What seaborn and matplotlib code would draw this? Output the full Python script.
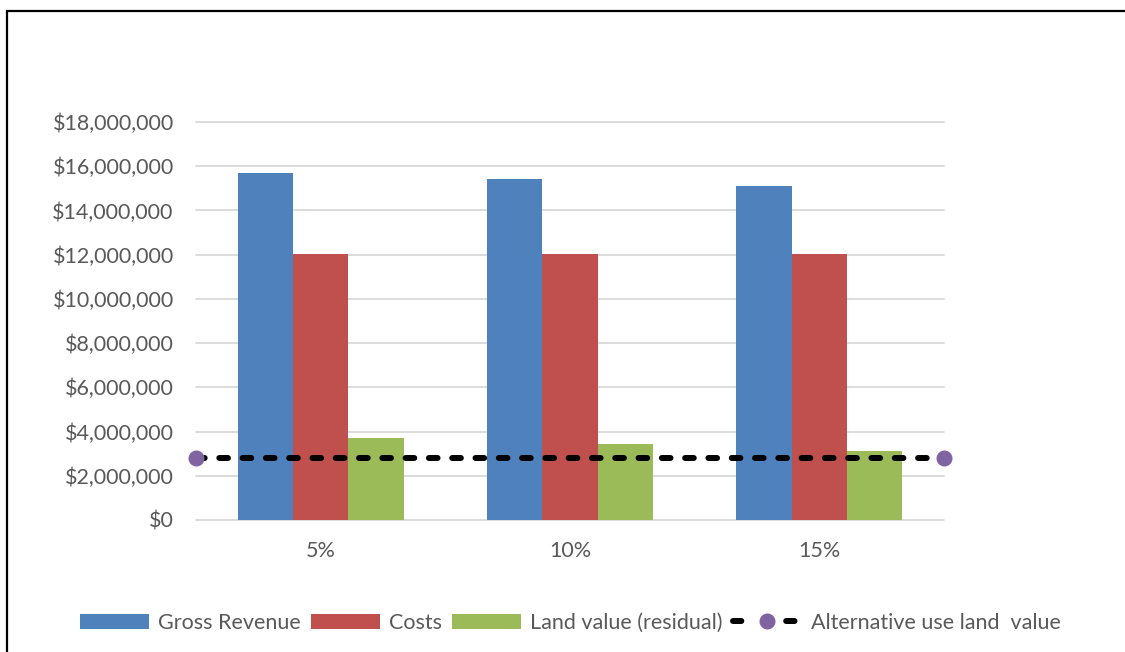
import matplotlib
matplotlib.use("Agg")
import matplotlib.pyplot as plt
import matplotlib.patches as mpatches
from matplotlib.lines import Line2D
from matplotlib.ticker import FuncFormatter, MultipleLocator
import seaborn as sns
import pandas as pd

# ---- data ----
categories = ["5%", "10%", "15%"]
gross_revenue = [15_700_000, 15_430_000, 15_120_000]
costs = [12_030_000, 12_030_000, 12_030_000]
land_value = [3_700_000, 3_430_000, 3_110_000]
alt_use_value = [2_810_000, 2_810_000]
series_names = ["Gross Revenue", "Costs", "Land value (residual)"]
line_name = "Alternative use land  value"

colors = ["#4F81BD", "#C0504D", "#9BBB59"]
purple = "#8064A2"
text_col = "#595959"

sns.set_style("white")
plt.rcParams["font.family"] = ["Lato", "DejaVu Sans"]

rows = []
for name, vals in zip(series_names, [gross_revenue, costs, land_value]):
    for c, v in zip(categories, vals):
        rows.append({"rate": c, "value": v, "series": name})
df = pd.DataFrame(rows)

fig = plt.figure(figsize=(11.25, 6.52), dpi=100)
ax = fig.add_axes([196 / 1125, 1 - 520 / 652, (944 - 196) / 1125, (520 - 122) / 652])

sns.barplot(data=df, x="rate", y="value", hue="series", order=categories,
            hue_order=series_names, palette=colors, width=0.667, gap=0,
            saturation=1, ax=ax, legend=False, errorbar=None, zorder=2,
            linewidth=0, edgecolor="none")

ax.set_xlim(-0.5, 2.5)
ax.set_ylim(0, 18_000_000)
ax.yaxis.set_major_locator(MultipleLocator(2_000_000))
ax.yaxis.set_major_formatter(FuncFormatter(lambda v, p: f"${v:,.0f}"))
ax.grid(axis="y", color="#D9D9D9", linewidth=1.3, zorder=0)
ax.set_axisbelow(True)
for gl in ax.get_ygridlines():
    gl.set_clip_on(False)
for s in ax.spines.values():
    s.set_visible(False)
ax.tick_params(axis="both", length=0, labelsize=15.5, labelcolor=text_col)
ax.tick_params(axis="y", pad=16)
ax.tick_params(axis="x", pad=15)
ax.set_xlabel("")
ax.set_ylabel("")

# alternative use land value line (edge to edge)
xline = [-0.5, 2.5]
ax.plot(xline, alt_use_value, color="black", linewidth=4.3,
        linestyle=(0, (1.45, 2.45)), dash_capstyle="round", zorder=4, clip_on=False)
ax.plot(xline, alt_use_value, linestyle="none", marker="o", markersize=10.5,
        color=purple, zorder=5, clip_on=False)

# legend
handles = [mpatches.Patch(facecolor=c, edgecolor="none") for c in colors]
handles.append(Line2D([0], [0], color="black", linewidth=4.3, linestyle=(0, (1.4, 7.5)),
                      dash_capstyle="round", marker="o", markersize=10.5,
                      markerfacecolor=purple, markeredgecolor=purple))
leg = fig.legend(handles, series_names + [line_name], loc="center",
                 bbox_to_anchor=(0.507, 1 - 623 / 652), ncol=4, frameon=False,
                 fontsize=15.5, handlelength=3.2, handleheight=0.75,
                 handletextpad=0.45, columnspacing=0.45)
for t in leg.get_texts():
    t.set_color(text_col)

# outer frame (partially outside image as in reference)
fig.patches.append(mpatches.Rectangle((7 / 1125, -0.2), 2.0, 1.2 - 11 / 652,
                                      transform=fig.transFigure, fill=False,
                                      edgecolor="black", linewidth=1.6))

fig.savefig("out.png", dpi=100)
